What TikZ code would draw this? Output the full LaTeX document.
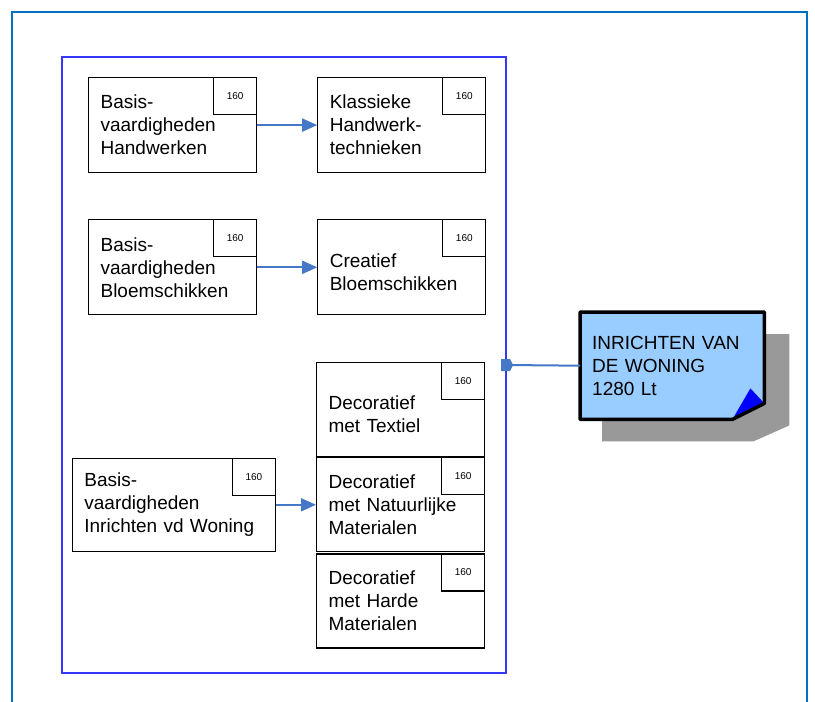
\documentclass[tikz,border=0pt]{standalone}
\usepackage{fontspec}
\setmainfont{Liberation Sans}
\usepackage{tikz}
\usetikzlibrary{positioning, arrows.meta, backgrounds, calc}
\usepackage{xcolor}

\definecolor{framecol}{RGB}{0,112,192}
\definecolor{clustercol}{RGB}{55,55,250}
\definecolor{linkcol}{RGB}{70,120,200}
\definecolor{notefill}{RGB}{153,204,255}
\definecolor{shadowgray}{RGB}{153,153,153}
\definecolor{foldblue}{RGB}{0,0,255}

\begin{document}
\begin{tikzpicture}[
    x=1pt, y=-1pt,
    node distance=60pt,
    module/.style={draw, line width=1.2pt, text width=#1, inner xsep=12pt, inner ysep=0pt,
        minimum height=95pt, align=left, font=\fontsize{19}{23}\selectfont},
    module/.default=144pt,
    credits/.style={draw, fill=white, line width=1.2pt, minimum width=43pt, minimum height=37pt,
        inner sep=0pt, anchor=north east, font=\fontsize{10}{12}\selectfont},
    link/.style={draw=linkcol, line width=2pt, -{Triangle[length=15pt,width=13pt,fill=linkcol]}}
]
    \useasboundingbox (0,0) rectangle (815,702);

    % Outer frame
    \draw[framecol, line width=1.8pt] (12,702) -- (12,12) -- (807,12) -- (807,702);
    \node[draw=clustercol, line width=2pt, minimum width=444pt, minimum height=616pt,
        inner sep=0pt, anchor=north west] (cluster) at (61,56) {};

    % Arrange modules
    \node[module, anchor=north west] (basisHW) at (88,77) {Basis-\\vaardigheden\\Handwerken};
    \node[module, right=of basisHW] (klassiek) {Klassieke\\Handwerk-\\technieken};
    \node[module, below=46pt of basisHW] (basisBS) {Basis-\\vaardigheden\\Bloemschikken};
    \node[module, right=of basisBS] (creatief) {\mbox{}\\Creatief\\Bloemschikken};
    \node[module, minimum height=94pt, anchor=north west] (textiel) at (316,362) {\mbox{}\\Decoratief\\met Textiel};
    \node[module, minimum height=94pt, below=0pt of textiel] (natuur) {Decoratief\\met Natuurlijke\\Materialen};
    \node[module, minimum height=94pt, below=1pt of natuur] (harde) {Decoratief\\met Harde\\Materialen};
    \node[module=179pt, minimum height=93pt, left=40pt of natuur] (basisWN) {Basis-\\vaardigheden\\Inrichten vd Woning};

    % Credits
    \node[credits] (basisHW-pts) at (basisHW.north east) {160};
    \node[credits] (klassiek-pts) at (klassiek.north east) {160};
    \node[credits] (basisBS-pts) at (basisBS.north east) {160};
    \node[credits] (creatief-pts) at (creatief.north east) {160};
    \node[credits] (textiel-pts) at (textiel.north east) {160};
    \node[credits] (natuur-pts) at (natuur.north east) {160};
    \node[credits] (harde-pts) at (harde.north east) {160};
    \node[credits] (basisWN-pts) at (basisWN.north east) {160};

    % Transitions
    \path
        (basisHW) edge[link] (klassiek)
        (basisBS) edge[link] (creatief)
        (basisWN) edge[link] (natuur);

    % Note
    \node[anchor=north west, minimum width=183pt, minimum height=107pt, text width=160pt,
        inner xsep=12pt, align=left, font=\fontsize{19}{23}\selectfont] (note) at (580,312)
        {INRICHTEN VAN\\DE WONING\\1280 Lt};
    \begin{scope}[on background layer]
        \fill[shadowgray] ($(note.north west)+(22,22)$) -- ($(note.north east)+(25,22)$)
            -- ($(note.south east)+(25,6)$) -- ($(note.south east)+(-11,22)$)
            -- ($(note.south west)+(22,22)$) -- cycle;
        \fill[notefill] (note.north west) -- (note.north east) -- ($(note.south east)+(0,-16)$)
            -- ($(note.south east)+(-32,0)$) -- (note.south west) -- cycle;
        \fill[foldblue] ($(note.south east)+(-32,0)$) -- ($(note.south east)+(-14,-31)$)
            -- ($(note.south east)+(0,-16)$) -- cycle;
        \draw[line width=3.5pt, line join=round] (note.north west) -- (note.north east)
            -- ($(note.south east)+(0,-16)$) -- ($(note.south east)+(-32,0)$)
            -- (note.south west) -- cycle;
    \end{scope}

    % Link to note
    \draw[linkcol, line width=2pt] (cluster.east) -- (note.west);
    \fill[linkcol] ($(cluster.east)+(-6,-6)$) -- ++(9,0) -- ++(3,6) -- ++(-3,6) -- ++(-9,0) -- cycle;
\end{tikzpicture}
\end{document}
